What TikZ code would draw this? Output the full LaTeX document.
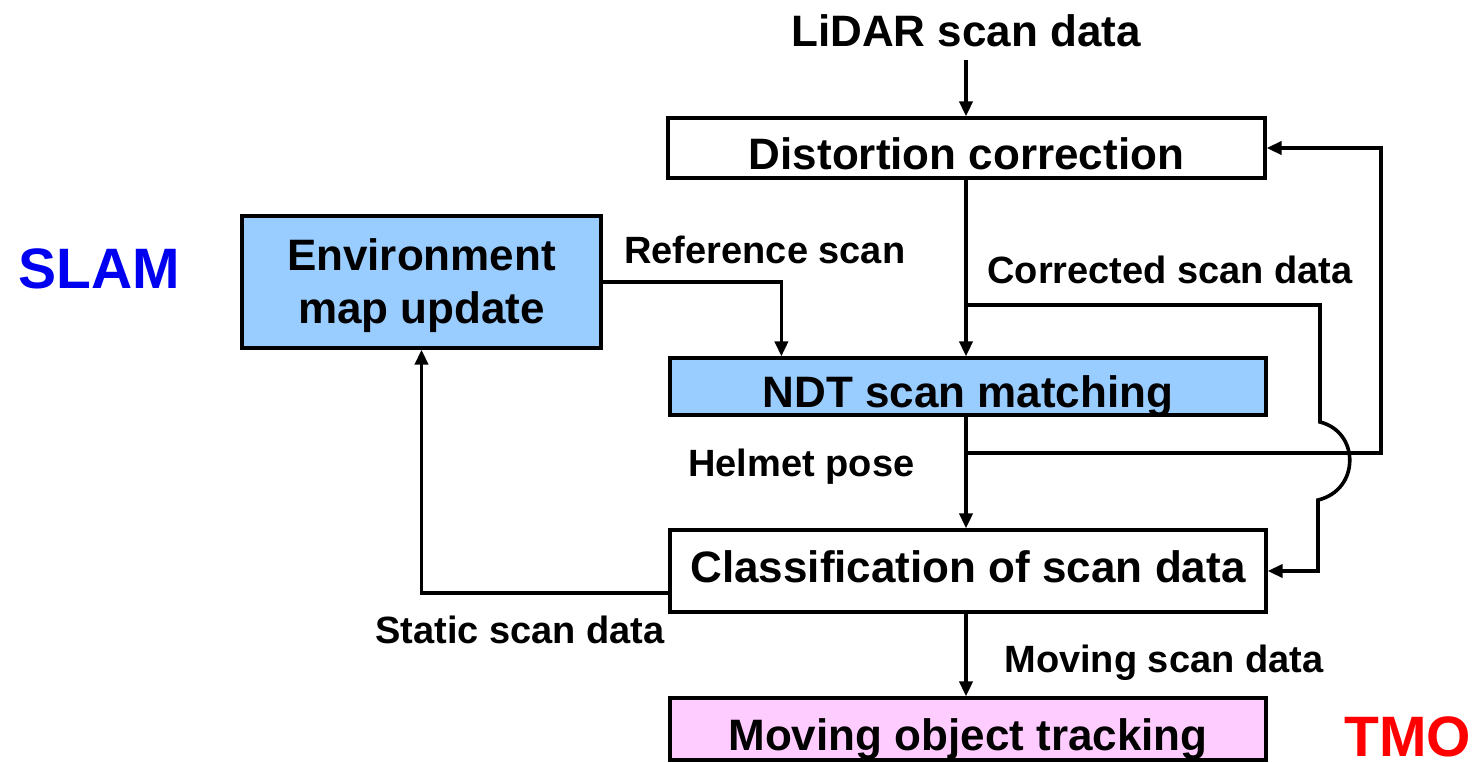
\documentclass[tikz,border=0pt]{standalone}
\usepackage{fontspec}
\setmainfont{Liberation Sans}
\usetikzlibrary{arrows.meta}
\definecolor{boxblue}{HTML}{99CCFF}
\definecolor{boxpink}{HTML}{FFCCFF}
\definecolor{slamblue}{HTML}{0000F0}
\definecolor{tmored}{HTML}{FF0000}
\begin{document}
\begin{tikzpicture}[x=0.5pt,y=-0.5pt,
  box/.style={draw=black,line width=1.6pt,inner sep=0pt,align=center,
    font=\fontsize{22}{26.5}\selectfont\bfseries},
  lowtext/.style={text height=21pt,text depth=0pt},
  hightext/.style={text height=11pt,text depth=0pt},
  lbl/.style={inner sep=0pt,anchor=west,font=\fontsize{19}{22}\selectfont\bfseries},
  big/.style={inner sep=0pt,font=\fontsize{28.5}{32}\selectfont\bfseries},
  conn/.style={line width=1.8pt,-{Triangle[length=7.5pt,width=6.5pt]}}]
\useasboundingbox (0,0) rectangle (1483,762);
% nodes
\node[inner sep=0pt,font=\fontsize{22}{26}\selectfont\bfseries] (lidar) at (966,31) {LiDAR scan data};
\node[box,lowtext,minimum width=298.5pt,minimum height=30pt] (dist) at (966.5,148) {Distortion correction};
\node[box,fill=boxblue,minimum width=179.5pt,minimum height=66pt] (env) at (421.5,282)
  {\raisebox{-2pt}[\height][\depth]{Environment}\\\raisebox{-2pt}[\height][\depth]{map update}};
\node[box,lowtext,fill=boxblue,minimum width=298pt,minimum height=28.5pt] (ndt) at (968,386.5) {NDT scan matching};
\node[box,hightext,minimum width=298pt,minimum height=41pt] (cls) at (968,571) {Classification of scan data};
\node[box,lowtext,fill=boxpink,minimum width=298pt,minimum height=31pt] (mot) at (968,729) {Moving object tracking};
% labels
\node[lbl] (lref) at (624,250) {Reference scan};
\node[lbl] (lcor) at (987,270) {Corrected scan data};
\node[lbl] (lhel) at (688,467) {Helmet pose};
\node[lbl] (lsta) at (375,630) {Static scan data};
\node[lbl] (lmov) at (1004,663) {Moving scan data};
\node[big,text=slamblue] (slam) at (99,269) {SLAM};
\node[big,text=tmored,anchor=south west,text depth=0pt] (tmo) at (1344,757) {TMO};
% coordinates
\coordinate (c1) at (966,305);
\coordinate (c2) at (966,453);
% connectors
\draw[conn] ([yshift=-6pt]lidar.south) -- (dist.north -| lidar.south);
\draw[conn] (dist.south -| c1) -- (ndt.north -| c1);
\draw[conn] (ndt.south -| c2) -- (cls.north -| c2);
\draw[conn] (cls.south -| c2) -- (mot.north -| c2);
\draw[conn] (env.east) -| ([xshift=56.5pt]ndt.north west);
\draw[conn] (c1) -- (1320,305) -- (1320,422)
  .. controls (1360,432) and (1360,490) .. (1318,500) -- (1318,571) -- (cls.east);
\draw[conn] (c2) -- (1381,453) -- (1381,148) -- (dist.east);
\draw[conn] ([yshift=-11pt]cls.west) -| (env.south);
\end{tikzpicture}
\end{document}
